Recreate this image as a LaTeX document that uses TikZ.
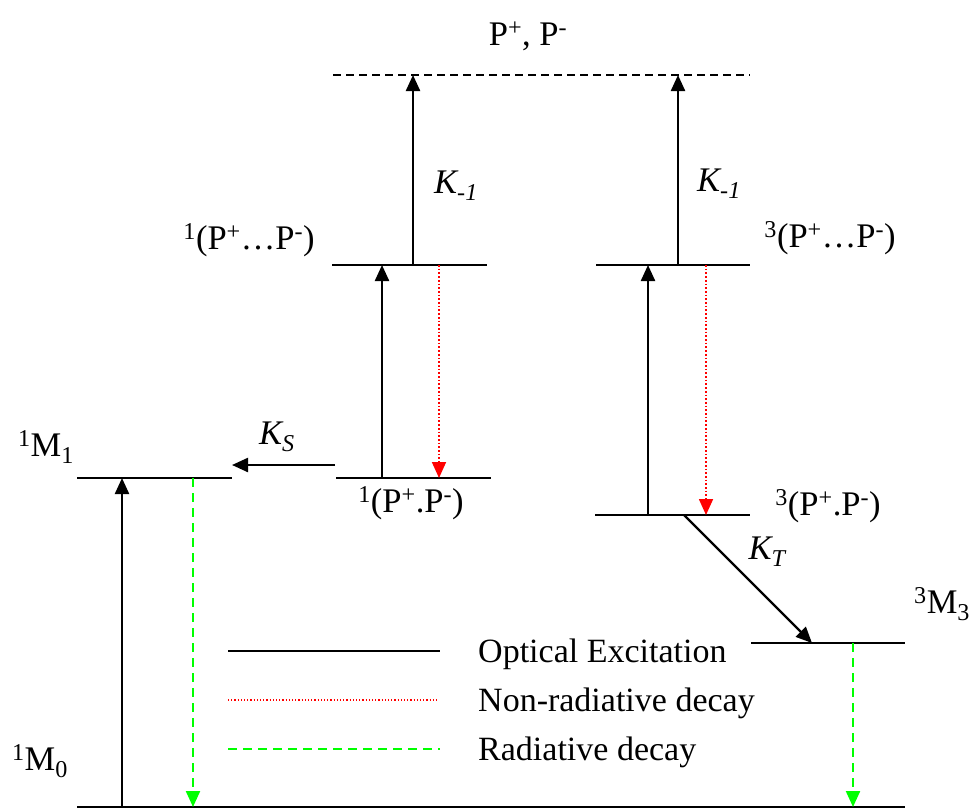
\documentclass[tikz,border=0pt]{standalone}
\usepackage{fontspec}
\setmainfont{Liberation Serif}
\usetikzlibrary{arrows.meta}
\begin{document}
\begin{tikzpicture}[x=1pt,y=-1pt,
  level/.style={line width=2pt},
  solidarr/.style={line width=2.3pt,-{Triangle[length=16pt,width=14pt]}},
  nonrad/.style={red,line width=1.7pt,dotted,-{Triangle[length=16pt,width=14pt]}},
  rad/.style={green,line width=2.2pt,dash pattern=on 9pt off 6pt,-{Triangle[length=16pt,width=14pt]}},
  lbl/.style={font=\fontsize{34.5}{38}\selectfont,inner sep=0pt,anchor=base},
  klbl/.style={font=\fontsize{34.5}{38}\selectfont\itshape,inner sep=0pt,anchor=base},
  legtxt/.style={font=\fontsize{34}{38}\selectfont,inner sep=0pt,anchor=base west}]
\useasboundingbox (0,0) rectangle (976,809);
% levels
\draw[level] (77,807) -- (905,807);
\draw[level] (77,478) -- (232,478);
\draw[level] (336,478) -- (491,478);
\draw[level] (332,265) -- (487,265);
\draw[level] (596,265) -- (750,265);
\draw[level] (595,515) -- (750,515);
\draw[level] (751,643) -- (905,643);
\draw[line width=1.6pt,dash pattern=on 8pt off 5pt] (333,75) -- (750,75);
% coordinates
\coordinate (a1s) at (122,807); \coordinate (a1e) at (122,478);
\coordinate (g1s) at (193,478); \coordinate (g1e) at (193,807);
\coordinate (kss) at (335,465); \coordinate (kse) at (232,465);
\coordinate (a2s) at (382,478); \coordinate (a2e) at (382,265);
\coordinate (r1s) at (439,265); \coordinate (r1e) at (439,478);
\coordinate (k1s) at (413,265); \coordinate (k1e) at (413,75);
\coordinate (a3s) at (648,515); \coordinate (a3e) at (648,265);
\coordinate (r2s) at (706,265); \coordinate (r2e) at (706,515);
\coordinate (k2s) at (678,265); \coordinate (k2e) at (678,75);
\coordinate (kts) at (684,515); \coordinate (kte) at (812,643);
\coordinate (g2s) at (853,643); \coordinate (g2e) at (853,807);
% arrows
\draw[solidarr] (a1s) -- (a1e);
\draw[rad] (g1s) -- (g1e);
\draw[solidarr] (kss) -- (kse);
\draw[solidarr] (a2s) -- (a2e);
\draw[nonrad] (r1s) -- (r1e);
\draw[solidarr] (k1s) -- (k1e);
\draw[solidarr] (a3s) -- (a3e);
\draw[nonrad] (r2s) -- (r2e);
\draw[solidarr] (k2s) -- (k2e);
\draw[solidarr] (kts) -- (kte);
\draw[rad] (g2s) -- (g2e);
% labels
\node[lbl] (ptop) at (528,45) {P\textsuperscript{+}, P\textsuperscript{-}};
\node[klbl,anchor=base west] (km1a) at (434,193) {K\textsubscript{-1}};
\node[klbl,anchor=base west] (km1b) at (697,191) {K\textsubscript{-1}};
\node[lbl] (s1pp) at (249,249) {\textsuperscript{1}(P\textsuperscript{+}\dots P\textsuperscript{-})};
\node[lbl] (t3pp) at (830,247) {\textsuperscript{3}(P\textsuperscript{+}\dots P\textsuperscript{-})};
\node[lbl] (m1) at (46,456) {\textsuperscript{1}M\textsubscript{1}};
\node[klbl] (ks) at (277,444) {K\textsubscript{S}};
\node[lbl] (s1p) at (411,512) {\textsuperscript{1}(P\textsuperscript{+}.P\textsuperscript{-})};
\node[lbl] (t3p) at (828,515) {\textsuperscript{3}(P\textsuperscript{+}.P\textsuperscript{-})};
\node[klbl] (kt) at (767,559) {K\textsubscript{T}};
\node[lbl,anchor=base west] (m3) at (914,613) {\textsuperscript{3}M\textsubscript{3}};
\node[lbl] (m0) at (40,770) {\textsuperscript{1}M\textsubscript{0}};
% legend
\coordinate (l1s) at (228,651); \coordinate (l1e) at (440,651);
\coordinate (l2s) at (228,700); \coordinate (l2e) at (437,700);
\coordinate (l3s) at (228,749); \coordinate (l3e) at (440,749);
\draw[line width=1.6pt] (l1s) -- (l1e);
\draw[red,line width=1.2pt,dotted] (l2s) -- (l2e);
\draw[green,line width=1.6pt,dash pattern=on 9pt off 6pt] (l3s) -- (l3e);
\node[legtxt] (t1) at (478,662) {Optical Excitation};
\node[legtxt] (t2) at (478,711) {Non-radiative decay};
\node[legtxt] (t3) at (478,760) {Radiative decay};
\end{tikzpicture}
\end{document}
